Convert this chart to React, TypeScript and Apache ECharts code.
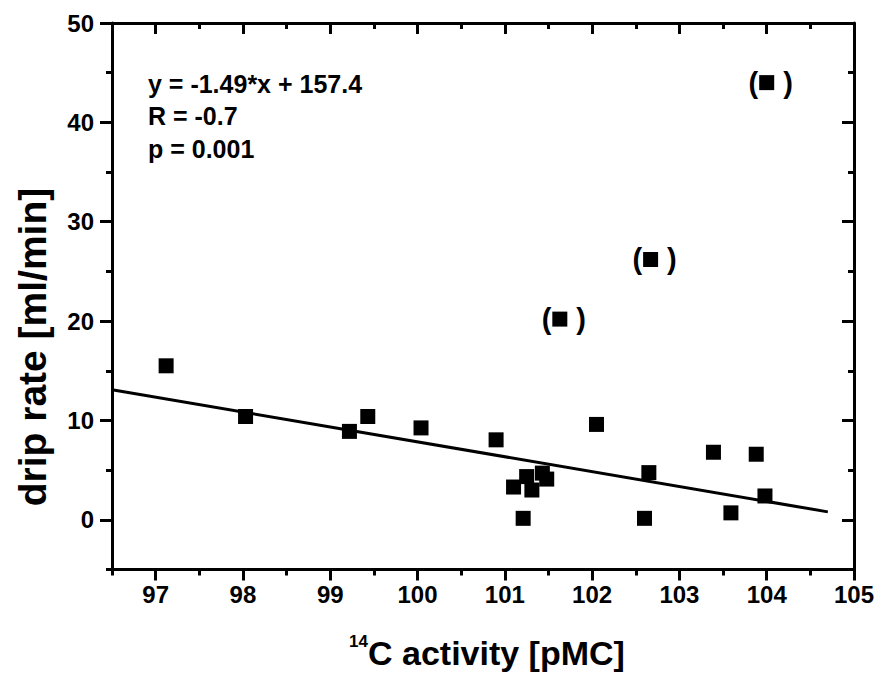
import React, { useEffect, useRef } from "react";
import * as echarts from "echarts";

const FONT = "'Liberation Sans', Arial, sans-serif";

// Main data points: [14C activity (pMC), drip rate (ml/min)]
const pointsX = [97.12, 98.03, 99.22, 99.43, 100.04, 100.9, 101.1, 101.25, 101.31, 101.21, 101.43, 101.48, 102.05, 102.65, 102.6, 103.39, 103.59, 103.88, 103.98];
const pointsY = [15.5, 10.4, 8.9, 10.4, 9.25, 8.05, 3.3, 4.35, 3.0, 0.15, 4.7, 4.1, 9.6, 4.75, 0.15, 6.8, 0.7, 6.6, 2.4];

// Outliers shown in parentheses
const outlierX = [101.63, 102.67, 104.0];
const outlierY = [20.2, 26.2, 44.0];

// Regression line endpoints
const lineX = [96.5, 104.7];
const lineY = [13.1, 0.8];

// Axis ticks
const xMajor = [97, 98, 99, 100, 101, 102, 103, 104, 105];
const xMinor = [96.5, 97.5, 98.5, 99.5, 100.5, 101.5, 102.5, 103.5, 104.5];
const yMajor = [0, 10, 20, 30, 40, 50];
const yMinor = [-5, 5, 15, 25, 35, 45];

const equationLines = ["y = -1.49*x + 157.4", "R = -0.7", "p = 0.001"];

export default function App() {
  const ref = useRef<HTMLDivElement>(null);

  useEffect(() => {
    if (!ref.current) return;
    const chart = echarts.init(ref.current, null, { renderer: "svg" });

    const lineStyle = { color: "#000", width: 3 };
    const mkX = (pos: "bottom" | "top", values: number[], len: number, showLine: boolean, showLabel: boolean, inside: boolean) => ({
      type: "value",
      position: pos,
      min: 96.5,
      max: 105,
      axisLine: { show: showLine, onZero: false, lineStyle },
      axisTick: { show: true, inside, length: len, customValues: values, lineStyle: { color: "#000", width: 3 } },
      axisLabel: {
        show: showLabel,
        customValues: values,
        margin: 13,
        color: "#000",
        fontSize: 24,
        fontWeight: "bold",
        fontFamily: FONT,
      },
      splitLine: { show: false },
    });
    const mkY = (pos: "left" | "right", values: number[], len: number, showLine: boolean, showLabel: boolean, inside: boolean) => ({
      type: "value",
      position: pos,
      min: -5,
      max: 50,
      axisLine: { show: showLine, onZero: false, lineStyle },
      axisTick: { show: true, inside, length: len, customValues: values, lineStyle: { color: "#000", width: 3 } },
      axisLabel: {
        show: showLabel,
        customValues: values,
        margin: 18,
        color: "#000",
        fontSize: 24,
        fontWeight: "bold",
        fontFamily: FONT,
      },
      splitLine: { show: false },
    });

    chart.setOption({
      animation: false,
      backgroundColor: "#fff",
      grid: { left: 112, right: 27, top: 23, bottom: 103.5, containLabel: false },
      xAxis: [
        mkX("bottom", xMajor, 11, true, true, false),
        mkX("bottom", xMinor, 6, false, false, false),
        mkX("top", xMajor, 11, true, false, true),
        mkX("top", xMinor, 6, false, false, true),
      ],
      yAxis: [
        mkY("left", yMajor, 12, true, true, false),
        mkY("left", yMinor, 6, false, false, false),
        mkY("right", yMajor, 12, true, false, true),
        mkY("right", yMinor, 6, false, false, true),
      ],
      series: [
        {
          type: "line",
          xAxisIndex: 0,
          yAxisIndex: 0,
          data: lineX.map((x, i) => [x, lineY[i]]),
          showSymbol: false,
          symbol: "none",
          lineStyle: { color: "#000", width: 3 },
          z: 2,
        },
        {
          type: "scatter",
          xAxisIndex: 0,
          yAxisIndex: 0,
          data: pointsX.map((x, i) => [x, pointsY[i]]),
          symbol: "rect",
          symbolSize: 15,
          itemStyle: { color: "#000", opacity: 1 },
          z: 3,
        },
        {
          type: "scatter",
          xAxisIndex: 0,
          yAxisIndex: 0,
          data: outlierX.map((x, i) => [x, outlierY[i]]),
          symbol: "rect",
          symbolSize: 15,
          itemStyle: { color: "#000", opacity: 1 },
          label: {
            show: true,
            position: "inside",
            offset: [4, 0],
            formatter: "{p|(}{g|}{p|)}",
            rich: {
              p: { fontSize: 29, fontWeight: "bold", color: "#000", fontFamily: FONT },
              g: { width: 25 },
            },
          },
          z: 3,
        },
      ],
      graphic: [
        ...equationLines.map((t, i) => ({
          type: "text",
          left: 148,
          top: 71 + i * 32.5,
          style: {
            text: t,
            fill: "#000",
            font: `bold 25px ${FONT}`,
          },
        })),
        {
          type: "text",
          x: 32,
          y: 347,
          rotation: Math.PI / 2,
          style: {
            text: "drip rate [ml/min]",
            fill: "#000",
            font: `bold 39px ${FONT}`,
            align: "center",
            verticalAlign: "middle",
          },
        },
        {
          type: "text",
          x: 487,
          y: 653,
          style: {
            text: "{s|14}{m|C activity [pMC]}",
            align: "center",
            verticalAlign: "middle",
            rich: {
              s: { fontSize: 17, lineHeight: 17, fontWeight: "bold", fontFamily: FONT, fill: "#000", color: "#000", verticalAlign: "top" },
              m: { fontSize: 34, lineHeight: 40, fontWeight: "bold", fontFamily: FONT, fill: "#000", color: "#000" },
            },
          },
        },
      ],
    });

    return () => chart.dispose();
  }, []);

  return (
    <div
      ref={ref}
      style={{ position: "fixed", left: 0, top: 0, width: 881, height: 673, background: "#fff" }}
    />
  );
}
